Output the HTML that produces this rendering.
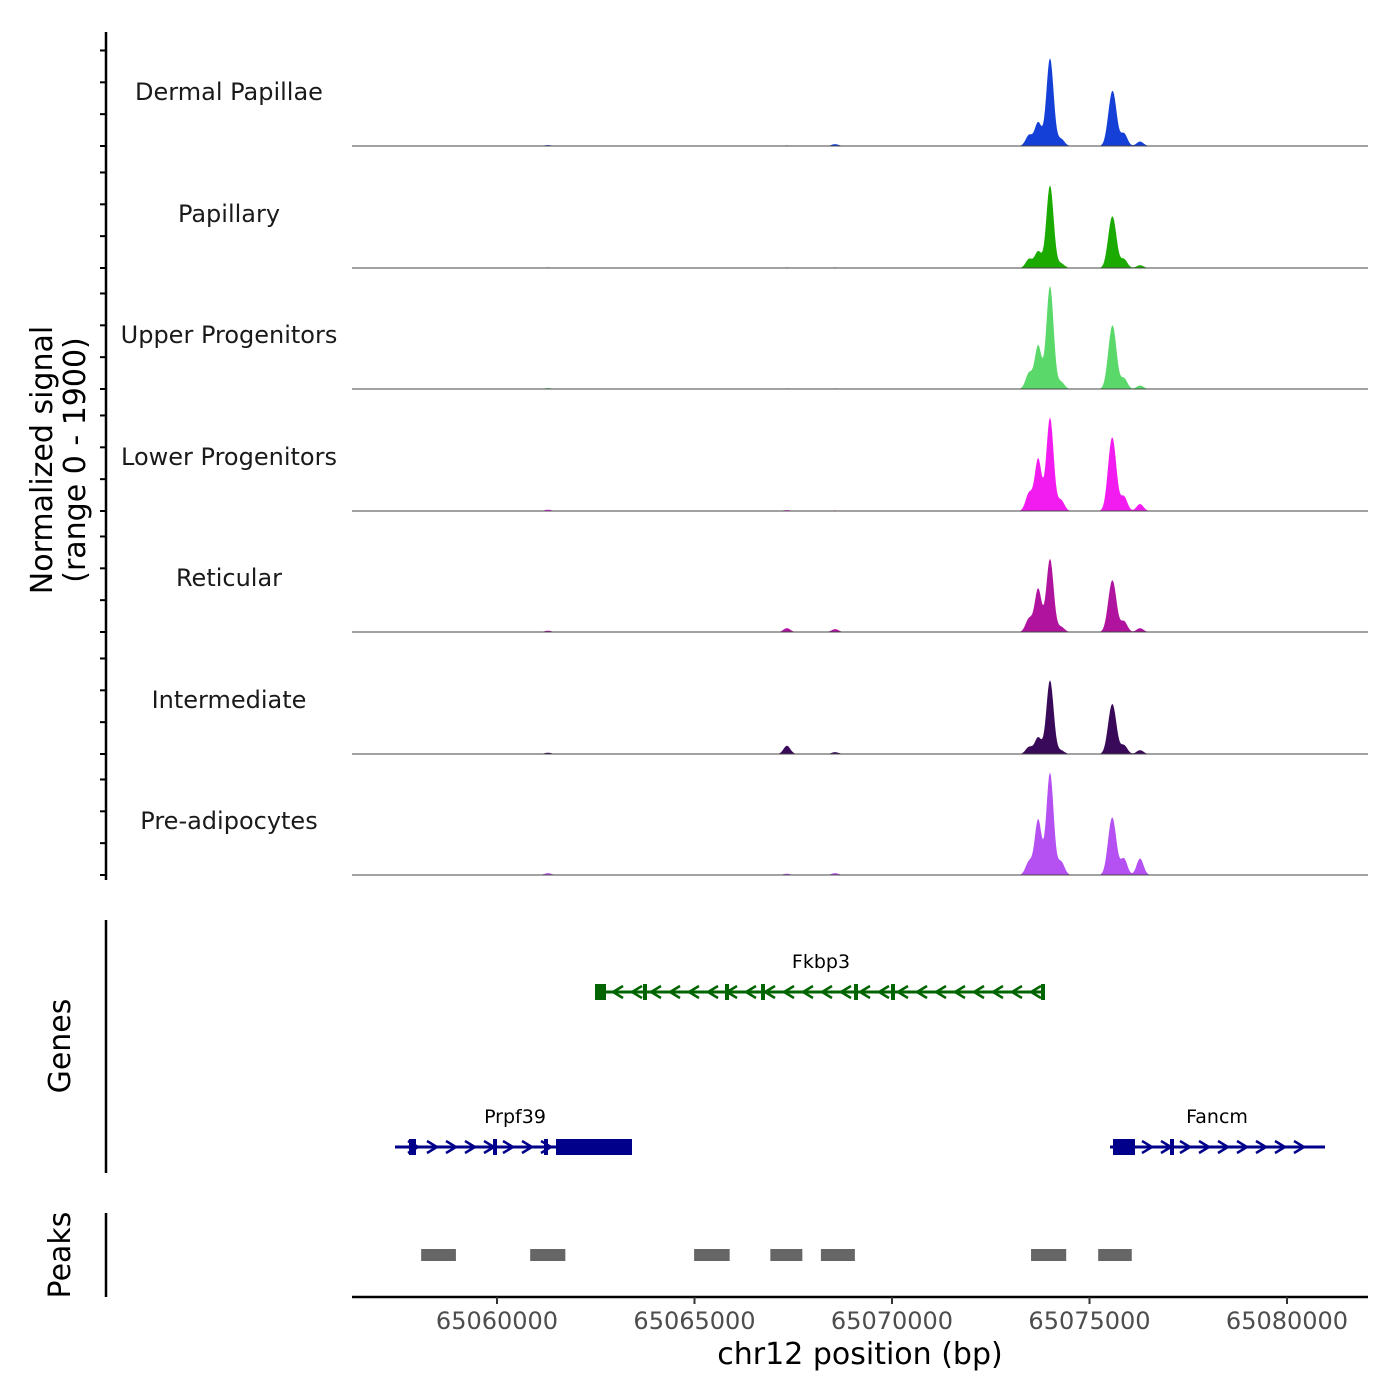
<!DOCTYPE html>
<html><head><meta charset="utf-8"><style>
body{margin:0;background:#fff}
svg{display:block;font-family:"DejaVu Sans","Liberation Sans",sans-serif}
</style></head><body>
<svg id="c" width="1400" height="1400" viewBox="0 0 1400 1400"></svg>
<script>
const tracks=["Dermal Papillae","Papillary","Upper Progenitors","Lower Progenitors","Reticular","Intermediate","Pre-adipocytes"];
const colors=["#1540d8","#1aaa00","#5ad86a","#f21cf0","#b0149f","#3a0a5a","#b550f2"];
const peakPos=[65061290,65067340,65068560,65073470,65073700,65074000,65074280,65075520,65075620,65075870,65076280];
const sigDP=[15,10,30,170,370,1380,110,420,600,200,70];
const sigPap=[10,10,10,140,260,1300,70,420,540,140,45];
const sigUp=[15,10,10,250,680,1620,110,500,680,170,55];
const sigLow=[20,15,10,280,820,1470,170,640,730,230,110];
const sigRet=[20,60,45,210,680,1150,80,420,540,170,60];
const sigInt=[20,130,30,110,260,1160,55,420,510,140,60];
const sigPre=[30,20,30,210,870,1610,210,500,570,260,260];
const signals=[sigDP,sigPap,sigUp,sigLow,sigRet,sigInt,sigPre];
const xTicks=[65060000,65065000,65070000,65075000,65080000];
const peakStarts=[65058080,65060840,65064990,65066920,65068200,65073520,65075220];
const peakEnds=[65058960,65061730,65065890,65067730,65069060,65074410,65076070];
const S=document.getElementById('c'),NS="http://www.w3.org/2000/svg";
function el(t,a,txt,p){const e=document.createElementNS(NS,t);for(const k in a)e.setAttribute(k,a[k]);if(txt!=null)e.textContent=txt;(p||S).appendChild(e);return e;}
const X=bp=>497+(bp-65060000)*0.0395;
const baselines=[146,268,389,511,632,754,875];
const H=121,YMAX=1900;
const Y=(v,b)=>b-v/YMAX*H;
let ax=el('line',{x1:106,y1:32,x2:106,y2:880,stroke:'#000','stroke-width':2.5});

baselines.forEach(b=>{for(let k=0;k<4;k++){const y=Y(k*500,b);if(y<30)continue;const t=el('line',{x1:100,y1:y,x2:106,y2:y,stroke:'#000','stroke-width':2});}});
const yt=el('text',{transform:'translate(52,460) rotate(-90)','text-anchor':'middle','font-size':30,fill:'#000'},'Normalized signal');

const yt2=el('text',{transform:'translate(85,460) rotate(-90)','text-anchor':'middle','font-size':30,fill:'#000'},'(range 0 - 1900)');

tracks.forEach((name,i)=>{
  const b=baselines[i],sig=signals[i];
  const lab=el('text',{x:229,y:b-46,'text-anchor':'middle','font-size':24,fill:'#1a1a1a'},name);
  
  let d='M352,'+b;
  const px=[];for(let x=352;x<=1368;x+=1){let v=0;peakPos.forEach((p,j)=>{const dx=(x-X(p))/(j==5?3.6:3.4);v+=sig[j]*Math.exp(-dx*dx/2);});px.push([x,v]);}
  px.forEach(([x,v])=>d+=' L'+x+','+Y(v,b).toFixed(1));
  d+=' L1368,'+b+' Z';
  const a=el('path',{d:d,fill:colors[i],stroke:'none'});
  
  const bl=el('line',{x1:352,y1:b,x2:1368,y2:b,stroke:'#444','stroke-width':1});
  
});
const ga=el('line',{x1:106,y1:920,x2:106,y2:1173,stroke:'#000','stroke-width':2.5});

const gt=el('text',{transform:'translate(70,1046) rotate(-90)','text-anchor':'middle','font-size':30},'Genes');

function gene(name,x1,x2,y,col,dir,exons,boxes,lx){
  const g=el('g',{});
  el('line',{x1:x1,y1:y,x2:x2,y2:y,stroke:col,'stroke-width':3},null,g);
  for(let x=x1+18;x<x2-8;x+=19){const s=dir*5;el('path',{d:`M${x-s},${y-6} L${x+s},${y} L${x-s},${y+6}`,fill:'none',stroke:col,'stroke-width':2.5},null,g);}
  exons.forEach(x=>el('rect',{x:x-2,y:y-8,width:4,height:16,fill:col},null,g));
  boxes.forEach(([a,c])=>el('rect',{x:a,y:y-8,width:c-a,height:16,fill:col},null,g));
  el('text',{x:lx,y:y-24,'text-anchor':'middle','font-size':19,fill:'#000'},name,g);
}
gene('Fkbp3',600,1045,992,'#006400',-1,[645,727,763,856,893,1043],[[595,606]],821);
gene('Prpf39',395,632,1147,'#00008b',1,[413,495,546],[[409,416],[556,632]],515);
gene('Fancm',1110,1325,1147,'#00008b',1,[1172],[[1113,1135]],1217);
const pa=el('line',{x1:106,y1:1213,x2:106,y2:1297,stroke:'#000','stroke-width':2.5});

const pt=el('text',{transform:'translate(70,1255) rotate(-90)','text-anchor':'middle','font-size':30},'Peaks');

peakStarts.forEach((s,i)=>{const r=el('rect',{x:X(s),y:1249,width:X(peakEnds[i])-X(s),height:12,fill:'#666'});
});
const xa=el('line',{x1:352,y1:1297,x2:1368,y2:1297,stroke:'#000','stroke-width':2.5});

xTicks.forEach(t=>{const tk=el('line',{x1:X(t),y1:1297,x2:X(t),y2:1304,stroke:'#333','stroke-width':2});

const l=el('text',{x:X(t),y:1329,'text-anchor':'middle','font-size':24,fill:'#4d4d4d'},String(t));
});
const xt=el('text',{x:860,y:1364,'text-anchor':'middle','font-size':30},'chr12 position (bp)');

</script>
</body></html>
